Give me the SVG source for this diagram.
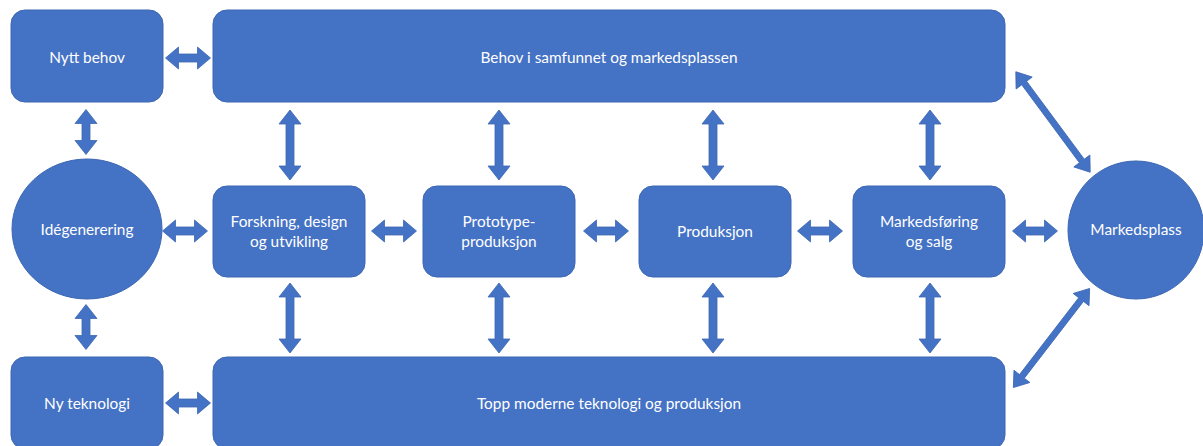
<svg xmlns="http://www.w3.org/2000/svg" xmlns:xlink="http://www.w3.org/1999/xlink" width="1203" height="446" viewBox="0 0 1203 446">
  <style>
    .box { fill: #4472C4; stroke: #3D67B3; stroke-width: 1; }
    .arrow { fill: #4472C4; stroke: #3D67B3; stroke-width: 0.8; }
    .lbl { font-family: Lato, "Open Sans", "Liberation Sans", sans-serif; font-size: 15.4px; fill: #FFFFFF; text-anchor: middle; dominant-baseline: central; }
  </style>
  <defs>
    <!-- double-headed block arrows, centred on the origin -->
    <polygon id="h45" points="-22.5,0 -9.5,-11 -9.5,-4 9.5,-4 9.5,-11 22.5,0 9.5,11 9.5,4 -9.5,4 -9.5,11"/>
    <polygon id="v45" points="0,-22.5 11,-8.5 4,-8.5 4,8.5 11,8.5 0,22.5 -11,8.5 -4,8.5 -4,-8.5 -11,-8.5"/>
    <polygon id="v70" points="0,-35 11,-21 4,-21 4,21 11,21 0,35 -11,21 -4,21 -4,-21 -11,-21"/>
    <polygon id="d125" points="-62.5,0 -48.5,-10 -48.5,-3 48.5,-3 48.5,-10 62.5,0 48.5,10 48.5,3 -48.5,3 -48.5,10"/>
  </defs>

  <g id="connectors">
    <!-- top row -->
    <use xlink:href="#h45" class="arrow" transform="translate(188,58)"/>
    <!-- left column -->
    <use xlink:href="#v45" class="arrow" transform="translate(86,132)"/>
    <use xlink:href="#v45" class="arrow" transform="translate(86,327)"/>
    <!-- bottom row -->
    <use xlink:href="#h45" class="arrow" transform="translate(188,403)"/>
    <!-- middle row -->
    <use xlink:href="#h45" class="arrow" transform="translate(185,231)"/>
    <use xlink:href="#h45" class="arrow" transform="translate(394,231)"/>
    <use xlink:href="#h45" class="arrow" transform="translate(606,231)"/>
    <use xlink:href="#h45" class="arrow" transform="translate(820,231)"/>
    <use xlink:href="#h45" class="arrow" transform="translate(1035,231)"/>
    <!-- verticals to the upper band -->
    <use xlink:href="#v70" class="arrow" transform="translate(290,145)"/>
    <use xlink:href="#v70" class="arrow" transform="translate(499,145)"/>
    <use xlink:href="#v70" class="arrow" transform="translate(713,145)"/>
    <use xlink:href="#v70" class="arrow" transform="translate(930,145)"/>
    <!-- verticals to the lower band -->
    <use xlink:href="#v70" class="arrow" transform="translate(290,318)"/>
    <use xlink:href="#v70" class="arrow" transform="translate(499,318)"/>
    <use xlink:href="#v70" class="arrow" transform="translate(713,318)"/>
    <use xlink:href="#v70" class="arrow" transform="translate(930,318)"/>
    <!-- diagonals to the marketplace -->
    <use xlink:href="#d125" class="arrow" transform="translate(1053,122) rotate(53.5)"/>
    <use xlink:href="#d125" class="arrow" transform="translate(1051.5,338) rotate(-52.4)"/>
  </g>

  <g id="nytt-behov">
    <rect class="box" x="11" y="10" width="152" height="92" rx="14"/>
    <text class="lbl" x="87" y="57">Nytt behov</text>
  </g>

  <g id="behov-samfunnet">
    <rect class="box" x="213" y="10" width="792" height="92" rx="14"/>
    <text class="lbl" x="609" y="57">Behov i samfunnet og markedsplassen</text>
  </g>

  <g id="idegenerering">
    <ellipse class="box" cx="87" cy="229" rx="75" ry="70"/>
    <text class="lbl" x="87" y="229">Idégenerering</text>
  </g>

  <g id="forskning">
    <rect class="box" x="213" y="186" width="152" height="91" rx="14"/>
    <text class="lbl" x="289" y="221">Forskning, design</text>
    <text class="lbl" x="289" y="241">og utvikling</text>
  </g>

  <g id="prototype">
    <rect class="box" x="423" y="186" width="152" height="91" rx="14"/>
    <text class="lbl" x="499" y="221">Prototype-</text>
    <text class="lbl" x="499" y="241">produksjon</text>
  </g>

  <g id="produksjon">
    <rect class="box" x="639" y="186" width="152" height="91" rx="14"/>
    <text class="lbl" x="715" y="231">Produksjon</text>
  </g>

  <g id="markedsforing">
    <rect class="box" x="853" y="186" width="152" height="91" rx="14"/>
    <text class="lbl" x="929" y="221">Markedsføring</text>
    <text class="lbl" x="929" y="241">og salg</text>
  </g>

  <g id="markedsplass">
    <ellipse class="box" cx="1136" cy="230" rx="68" ry="69"/>
    <text class="lbl" x="1136" y="229">Markedsplass</text>
  </g>

  <g id="ny-teknologi">
    <rect class="box" x="11" y="357" width="152" height="92" rx="14"/>
    <text class="lbl" x="87" y="403">Ny teknologi</text>
  </g>

  <g id="topp-moderne">
    <rect class="box" x="213" y="357" width="792" height="92" rx="14"/>
    <text class="lbl" x="609" y="403">Topp moderne teknologi og produksjon</text>
  </g>
</svg>
